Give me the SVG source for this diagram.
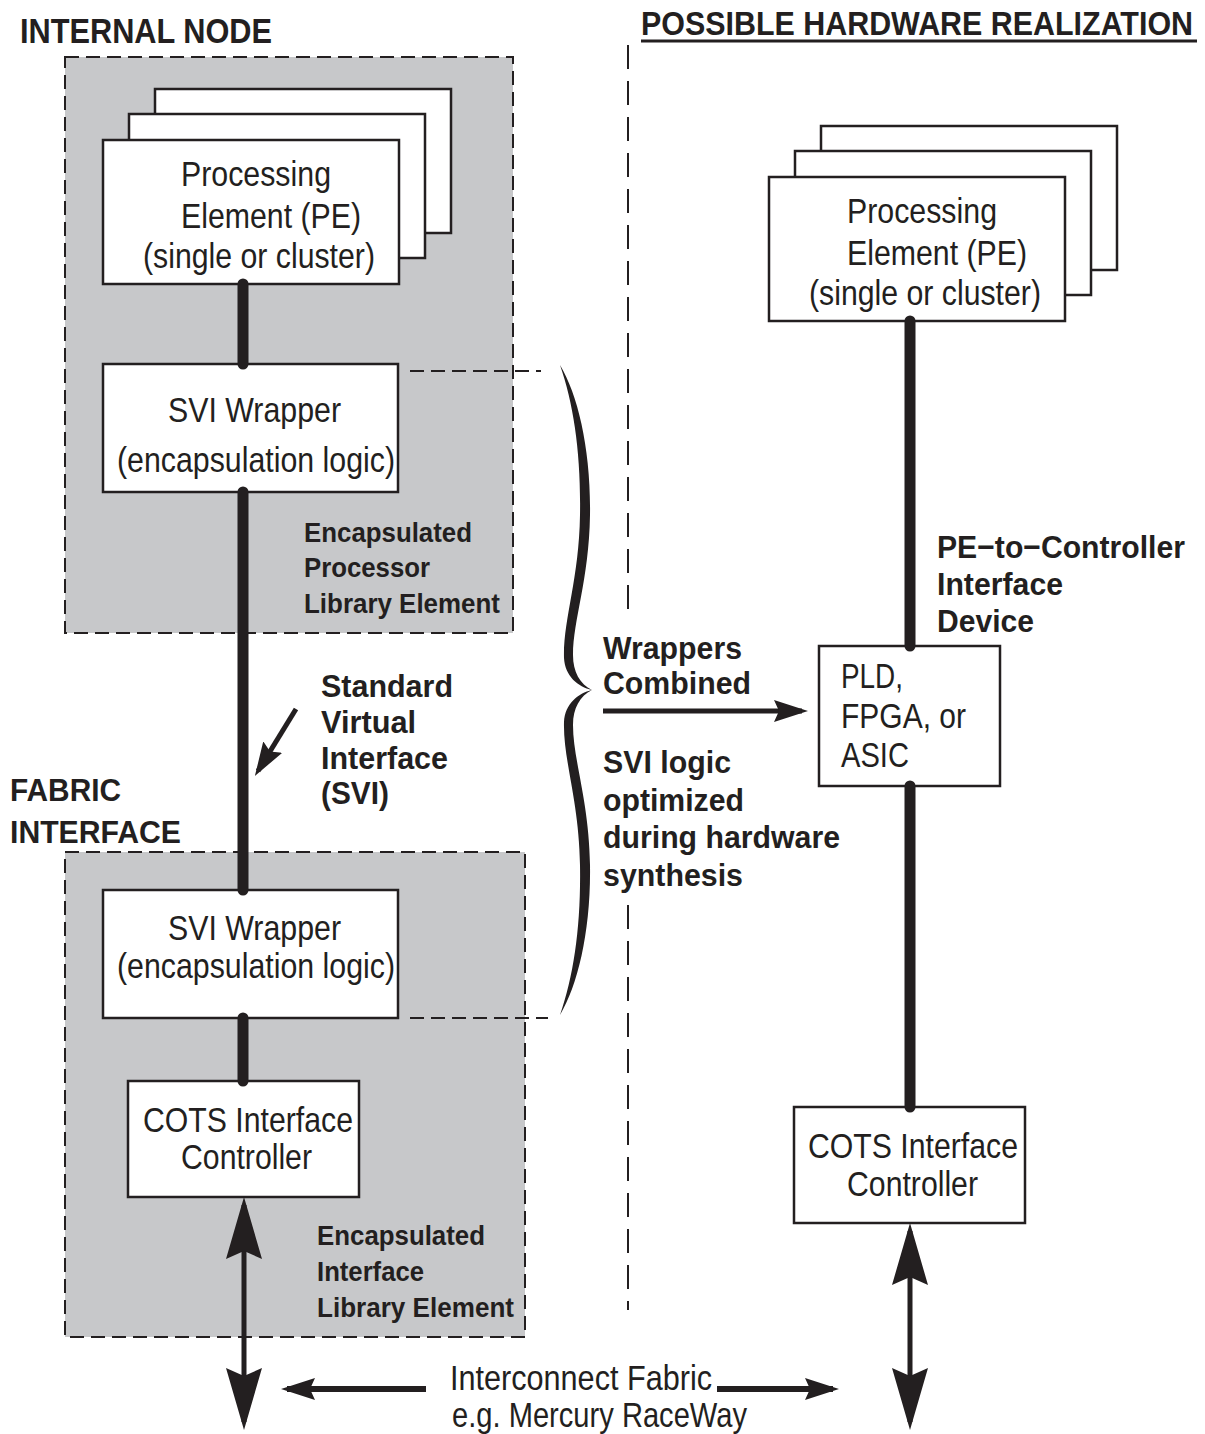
<svg xmlns="http://www.w3.org/2000/svg" width="1205" height="1434" viewBox="0 0 1205 1434">
  <defs>
    <style>
      .box { fill: #ffffff; stroke: #231f20; stroke-width: 2.5; }
      .grp { fill: #c7c8ca; stroke: #231f20; stroke-width: 2; stroke-dasharray: 14 7; }
      .dash { fill: none; stroke: #231f20; stroke-width: 2; stroke-dasharray: 14 7; }
      .vdash { fill: none; stroke: #231f20; stroke-width: 2; stroke-dasharray: 24 12; }
      .bus { stroke: #231f20; stroke-width: 11; stroke-linecap: round; }
      .arr { fill: none; stroke: #231f20; stroke-width: 5; }
      .arr-h { fill: none; stroke: #231f20; stroke-width: 6; }
      .t { font-family: "Liberation Sans", Arial, Helvetica, sans-serif; fill: #231f20; }
      .r { font-size: 35px; }
      .b { font-weight: bold; }
    </style>
    <marker id="head-big" viewBox="0 -18 62 36" refX="54" refY="0" markerWidth="62" markerHeight="36" markerUnits="userSpaceOnUse" orient="auto-start-reverse">
      <path d="M0,-18 L62,0 L0,18 L8,0 Z" fill="#231f20"/>
    </marker>
    <marker id="head-small" viewBox="0 -11 34 22" refX="28" refY="0" markerWidth="34" markerHeight="22" markerUnits="userSpaceOnUse" orient="auto-start-reverse">
      <path d="M0,-11 L34,0 L0,11 L5,0 Z" fill="#231f20"/>
    </marker>
  </defs>

  <rect width="1205" height="1434" fill="#ffffff"/>

  <!-- headings -->
  <g id="heading-internal-node">
    <text class="t b" x="20" y="43" font-size="35" textLength="252" lengthAdjust="spacingAndGlyphs">INTERNAL NODE</text>
  </g>
  <g id="heading-hardware">
    <text class="t b" transform="translate(641,35) scale(0.895,1)" x="0" y="0" font-size="34">POSSIBLE HARDWARE REALIZATION</text>
    <line x1="641" y1="41" x2="1197" y2="41" stroke="#231f20" stroke-width="3"/>
  </g>

  <!-- divider between the two halves, broken around the middle labels -->
  <line class="vdash" x1="628" y1="45" x2="628" y2="612"/>
  <line class="vdash" x1="628" y1="905" x2="628" y2="1310"/>

  <!-- library element groups -->
  <g id="processor-library-element">
    <rect class="grp" x="65" y="57" width="448" height="576"/>
    <text class="t b" x="304" y="542" font-size="28" textLength="168" lengthAdjust="spacingAndGlyphs">Encapsulated</text>
    <text class="t b" x="304" y="577" font-size="28" textLength="126" lengthAdjust="spacingAndGlyphs">Processor</text>
    <text class="t b" x="304" y="613" font-size="28" textLength="196" lengthAdjust="spacingAndGlyphs">Library Element</text>
  </g>
  <g id="interface-library-element">
    <rect class="grp" x="65" y="852" width="460" height="485"/>
    <text class="t b" x="317" y="1245" font-size="28" textLength="168" lengthAdjust="spacingAndGlyphs">Encapsulated</text>
    <text class="t b" x="317" y="1281" font-size="28" textLength="107" lengthAdjust="spacingAndGlyphs">Interface</text>
    <text class="t b" x="317" y="1317" font-size="28" textLength="197" lengthAdjust="spacingAndGlyphs">Library Element</text>
  </g>

  <g id="label-fabric-interface">
    <text class="t b" x="10" y="801" font-size="32" textLength="111" lengthAdjust="spacingAndGlyphs">FABRIC</text>
    <text class="t b" x="10" y="843" font-size="32" textLength="171" lengthAdjust="spacingAndGlyphs">INTERFACE</text>
  </g>

  <!-- wrapper guide lines and brace -->
  <g id="wrapper-brace">
    <line class="dash" x1="410" y1="371" x2="541" y2="371"/>
    <line class="dash" x1="410" y1="1018" x2="548" y2="1018"/>
    <path fill="#231f20" d="M560,365 C578,395 591,450 590,515 C589,580 573,620 573,655 C573,672 580,684 592,690 C578,687 565,676 564,658 C563,620 579,580 580,515 C581,455 574,405 560,365 Z"/>
    <path fill="#231f20" d="M592,690 C580,696 573,708 573,725 C573,760 589,800 590,865 C591,930 578,985 560,1015 C574,975 581,925 580,865 C579,800 563,760 564,722 C565,704 578,693 592,690 Z"/>
  </g>

  <!-- left column nodes -->
  <g id="pe-stack-left">
    <rect class="box" x="155" y="89" width="296" height="144"/>
    <rect class="box" x="129" y="114" width="296" height="144"/>
    <rect class="box" x="103" y="140" width="296" height="144"/>
    <text class="t r" x="181" y="186" textLength="150" lengthAdjust="spacingAndGlyphs">Processing</text>
    <text class="t r" x="181" y="228" textLength="180" lengthAdjust="spacingAndGlyphs">Element (PE)</text>
    <text class="t r" x="143" y="268" textLength="232" lengthAdjust="spacingAndGlyphs">(single or cluster)</text>
  </g>
  <g id="svi-wrapper-upper">
    <rect class="box" x="103" y="364" width="295" height="128"/>
    <text class="t r" x="168" y="422" textLength="173" lengthAdjust="spacingAndGlyphs">SVI Wrapper</text>
    <text class="t r" x="117" y="472" textLength="278" lengthAdjust="spacingAndGlyphs">(encapsulation logic)</text>
  </g>
  <g id="svi-wrapper-lower">
    <rect class="box" x="103" y="890" width="295" height="128"/>
    <text class="t r" x="168" y="940" textLength="173" lengthAdjust="spacingAndGlyphs">SVI Wrapper</text>
    <text class="t r" x="117" y="978" textLength="278" lengthAdjust="spacingAndGlyphs">(encapsulation logic)</text>
  </g>
  <g id="cots-controller-left">
    <rect class="box" x="128" y="1081" width="231" height="116"/>
    <text class="t r" x="143" y="1132" font-size="34" textLength="210" lengthAdjust="spacingAndGlyphs">COTS Interface</text>
    <text class="t r" x="181" y="1169" font-size="34" textLength="131" lengthAdjust="spacingAndGlyphs">Controller</text>
  </g>

  <g id="label-svi">
    <text class="t b" x="321" y="697" font-size="32" textLength="132" lengthAdjust="spacingAndGlyphs">Standard</text>
    <text class="t b" x="321" y="733" font-size="32" textLength="95" lengthAdjust="spacingAndGlyphs">Virtual</text>
    <text class="t b" x="321" y="769" font-size="32" textLength="127" lengthAdjust="spacingAndGlyphs">Interface</text>
    <text class="t b" x="321" y="804" font-size="32" textLength="68" lengthAdjust="spacingAndGlyphs">(SVI)</text>
  </g>

  <g id="label-wrappers-combined">
    <text class="t b" x="603" y="659" font-size="31" textLength="139" lengthAdjust="spacingAndGlyphs">Wrappers</text>
    <text class="t b" x="603" y="694" font-size="31" textLength="148" lengthAdjust="spacingAndGlyphs">Combined</text>
  </g>
  <g id="label-svi-logic">
    <text class="t b" x="603" y="773" font-size="31" textLength="128" lengthAdjust="spacingAndGlyphs">SVI logic</text>
    <text class="t b" x="603" y="811" font-size="31" textLength="141" lengthAdjust="spacingAndGlyphs">optimized</text>
    <text class="t b" x="603" y="848" font-size="31" textLength="237" lengthAdjust="spacingAndGlyphs">during hardware</text>
    <text class="t b" x="603" y="886" font-size="31" textLength="140" lengthAdjust="spacingAndGlyphs">synthesis</text>
  </g>

  <!-- right column nodes -->
  <g id="pe-stack-right">
    <rect class="box" x="821" y="126" width="296" height="144"/>
    <rect class="box" x="795" y="151" width="296" height="144"/>
    <rect class="box" x="769" y="177" width="296" height="144"/>
    <text class="t r" x="847" y="223" textLength="150" lengthAdjust="spacingAndGlyphs">Processing</text>
    <text class="t r" x="847" y="265" textLength="180" lengthAdjust="spacingAndGlyphs">Element (PE)</text>
    <text class="t r" x="809" y="305" textLength="232" lengthAdjust="spacingAndGlyphs">(single or cluster)</text>
  </g>
  <g id="label-pe-to-controller">
    <text class="t b" x="937" y="558" font-size="32" textLength="248" lengthAdjust="spacingAndGlyphs">PE−to−Controller</text>
    <text class="t b" x="937" y="595" font-size="32" textLength="126" lengthAdjust="spacingAndGlyphs">Interface</text>
    <text class="t b" x="937" y="632" font-size="32" textLength="97" lengthAdjust="spacingAndGlyphs">Device</text>
  </g>
  <g id="pld-fpga-asic">
    <rect class="box" x="819" y="646" width="181" height="140"/>
    <text class="t r" x="841" y="688" font-size="36" textLength="62" lengthAdjust="spacingAndGlyphs">PLD,</text>
    <text class="t r" x="841" y="728" font-size="36" textLength="125" lengthAdjust="spacingAndGlyphs">FPGA, or</text>
    <text class="t r" x="841" y="767" font-size="36" textLength="68" lengthAdjust="spacingAndGlyphs">ASIC</text>
  </g>
  <g id="cots-controller-right">
    <rect class="box" x="794" y="1107" width="231" height="116"/>
    <text class="t r" x="808" y="1158" font-size="34" textLength="210" lengthAdjust="spacingAndGlyphs">COTS Interface</text>
    <text class="t r" x="847" y="1196" font-size="34" textLength="131" lengthAdjust="spacingAndGlyphs">Controller</text>
  </g>

  <g id="label-interconnect">
    <text class="t r" x="450" y="1390" font-size="34" textLength="262" lengthAdjust="spacingAndGlyphs">Interconnect Fabric</text>
    <text class="t r" x="452" y="1427" font-size="34" textLength="295" lengthAdjust="spacingAndGlyphs">e.g. Mercury RaceWay</text>
  </g>

  <!-- connectors (drawn over the node borders) -->
  <g id="connectors">
    <line class="bus" x1="243" y1="284" x2="243" y2="364"/>
    <line class="bus" x1="243" y1="492" x2="243" y2="890"/>
    <line class="bus" x1="243" y1="1018" x2="243" y2="1081"/>
    <line class="bus" x1="910" y1="321" x2="910" y2="646"/>
    <line class="bus" x1="910" y1="786" x2="910" y2="1107"/>
    <line class="arr" x1="296" y1="709" x2="258" y2="771" marker-end="url(#head-small)"/>
    <line class="arr" x1="603" y1="711" x2="802" y2="711" marker-end="url(#head-small)"/>
    <line class="arr" x1="244" y1="1205" x2="244" y2="1422" marker-start="url(#head-big)" marker-end="url(#head-big)"/>
    <line class="arr" x1="910" y1="1231" x2="910" y2="1422" marker-start="url(#head-big)" marker-end="url(#head-big)"/>
    <line class="arr-h" x1="426" y1="1389" x2="287" y2="1389" marker-end="url(#head-small)"/>
    <line class="arr-h" x1="717" y1="1389" x2="833" y2="1389" marker-end="url(#head-small)"/>
  </g>
</svg>
